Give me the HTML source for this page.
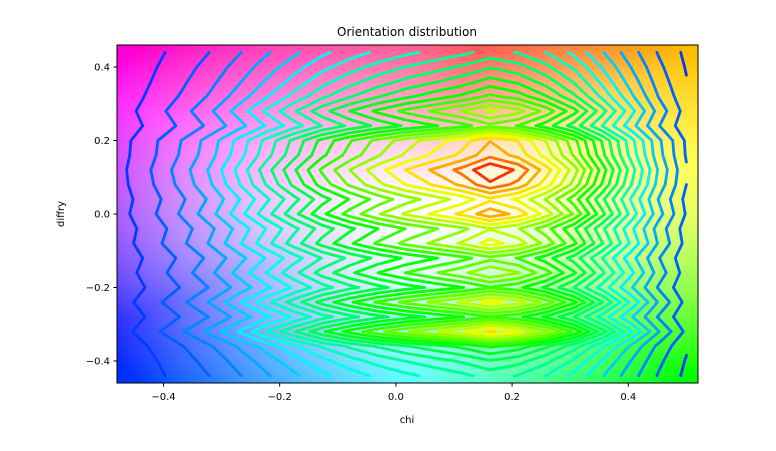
<!DOCTYPE html>
<html><head><meta charset="utf-8"><style>
body{margin:0;background:#fff;}
#wrap{position:relative;width:776px;height:451px;font-family:"DejaVu Sans","Liberation Sans",sans-serif;}
canvas{position:absolute;left:117px;top:45px;}
svg{position:absolute;left:0;top:0;}
</style></head><body>
<div id="wrap">
<canvas id="bg" width="581" height="338"></canvas>
<svg id="svg" width="776" height="451"></svg>
</div>
<script>
// data
const xTicks=[-0.4,-0.2,0.0,0.2,0.4];
const yTicks=[-0.4,-0.2,0.0,0.2,0.4];
const chiProfile=[0.05,0.1,0.16,0.23,0.32,0.42,0.52,0.62,0.7,0.77,0.83,0.88,0.93,1.0,0.95,0.85,0.72,0.55,0.38,0.22,0.1];
const diffryProfile=[0.1,0.2,0.35,0.75,0.4,0.7,0.4,0.6,0.45,0.7,0.6,0.85,0.72,0.92,1.0,0.85,0.8,0.45,0.62,0.42,0.3,0.2,0.1];
const gridX0=-0.465,gridX1=0.5,gridY0=-0.44,gridY1=0.44;
const nLevels=22;

const L=117,R=698,T=45,B=383;
const xmin=-0.48,xmax=0.52,ymin=-0.46,ymax=0.46;
const sx=v=>L+(v-xmin)/(xmax-xmin)*(R-L);
const sy=v=>B-(v-ymin)/(ymax-ymin)*(B-T);
const NS='http://www.w3.org/2000/svg';
const svg=document.getElementById('svg');
function mk(t,a,p){const e=document.createElementNS(NS,t);for(const k in a)e.setAttribute(k,a[k]);(p||svg).appendChild(e);return e;}

// background
const ctx=document.getElementById('bg').getContext('2d');
const W=581,H=338,img=ctx.createImageData(W,H);
function hsv(h,s,v){h=((h%360)+360)%360/60;const i=Math.floor(h),f=h-i,p=v*(1-s),q=v*(1-s*f),t=v*(1-s*(1-f));return [[v,t,p],[q,v,p],[p,v,t],[p,q,v],[t,p,v],[v,p,q]][i%6];}
const angK=[-180,-135,-90,-45,0,45,90,135,180];
const hueK=[270,228,180,120,70,45,-20,-50,-90];
function hueAt(a){for(let i=0;i<8;i++)if(a<=angK[i+1]){const f=(a-angK[i])/45;return hueK[i]+(hueK[i+1]-hueK[i])*f;}return -90;}
for(let y=0;y<H;y++)for(let x=0;x<W;x++){const u=(x-W/2)/(W/2),v=(H/2-y)/(H/2);const a=Math.atan2(v,u)*180/Math.PI;const r=Math.sqrt(u*u+v*v);const c=hsv(hueAt(a),Math.min(1,Math.pow(r/1.35,1.5)),1);const k=(y*W+x)*4;img.data[k]=c[0]*255;img.data[k+1]=c[1]*255;img.data[k+2]=c[2]*255;img.data[k+3]=255;}
ctx.putImageData(img,0,0);

// contours
const clip=mk('clipPath',{id:'cp'});mk('rect',{x:L,y:T,width:R-L,height:B-T},clip);
const g=mk('g',{'clip-path':'url(#cp)',});
const nx=chiProfile.length,ny=diffryProfile.length;
const gx=i=>gridX0+(gridX1-gridX0)*i/(nx-1), gy=j=>gridY0+(gridY1-gridY0)*j/(ny-1);
const F=(i,j)=>chiProfile[i]*(0.35+0.65*diffryProfile[j]);
let fmax=0;for(let i=0;i<nx;i++)for(let j=0;j<ny;j++)fmax=Math.max(fmax,F(i,j));
for(let l=0;l<nLevels;l++){
  const t=(l+0.5)/nLevels, lev=fmax*(0.03+0.95*t);
  const hue=230*Math.pow(1-t,0.8);
  let d='';
  for(let i=0;i<nx-1;i++)for(let j=0;j<ny-1;j++){
    const c=[[i,j],[i+1,j],[i+1,j+1],[i,j+1]];
    const vals=c.map(p=>F(p[0],p[1]));
    const pts=[];
    for(let e=0;e<4;e++){const a=c[e],b=c[(e+1)%4],va=vals[e],vb=vals[(e+1)%4];
      if((va<lev)!==(vb<lev)){const f=(lev-va)/(vb-va);pts.push([sx(gx(a[0])+(gx(b[0])-gx(a[0]))*f),sy(gy(a[1])+(gy(b[1])-gy(a[1]))*f)]);}}
    for(let k=0;k+1<pts.length;k+=2)d+=`M${pts[k][0].toFixed(1)},${pts[k][1].toFixed(1)}L${pts[k+1][0].toFixed(1)},${pts[k+1][1].toFixed(1)}`;
  }
  const p=mk('path',{d:d,fill:'none',stroke:`hsl(${hue},100%,50%)`,'stroke-width':2.8,'stroke-linecap':'round','stroke-linejoin':'round'},g);
  
  
}

// axes
mk('rect',{x:L,y:T,width:R-L,height:B-T,fill:'none',stroke:'#000','stroke-width':1,});
xTicks.forEach(v=>{const x=sx(v);mk('line',{x1:x,x2:x,y1:B,y2:B+3.5,stroke:'#000'});
  const t=mk('text',{x:x,y:B+17,'text-anchor':'middle','font-size':10});t.textContent=(v<0?'\u2212':'')+Math.abs(v).toFixed(1);
  });
yTicks.forEach(v=>{const y=sy(v);mk('line',{x1:L-3.5,x2:L,y1:y,y2:y,stroke:'#000'});
  const t=mk('text',{x:L-7,y:y+3.5,'text-anchor':'end','font-size':10});t.textContent=(v<0?'\u2212':'')+Math.abs(v).toFixed(1);
  });
mk('text',{x:407,y:36,'text-anchor':'middle','font-size':12,}).textContent='Orientation distribution';
mk('text',{x:407,y:423,'text-anchor':'middle','font-size':10,}).textContent='chi';
mk('text',{x:64,y:214,'text-anchor':'middle','font-size':10,transform:'rotate(-90 64 214)',}).textContent='diffry';
</script>
</body></html>
